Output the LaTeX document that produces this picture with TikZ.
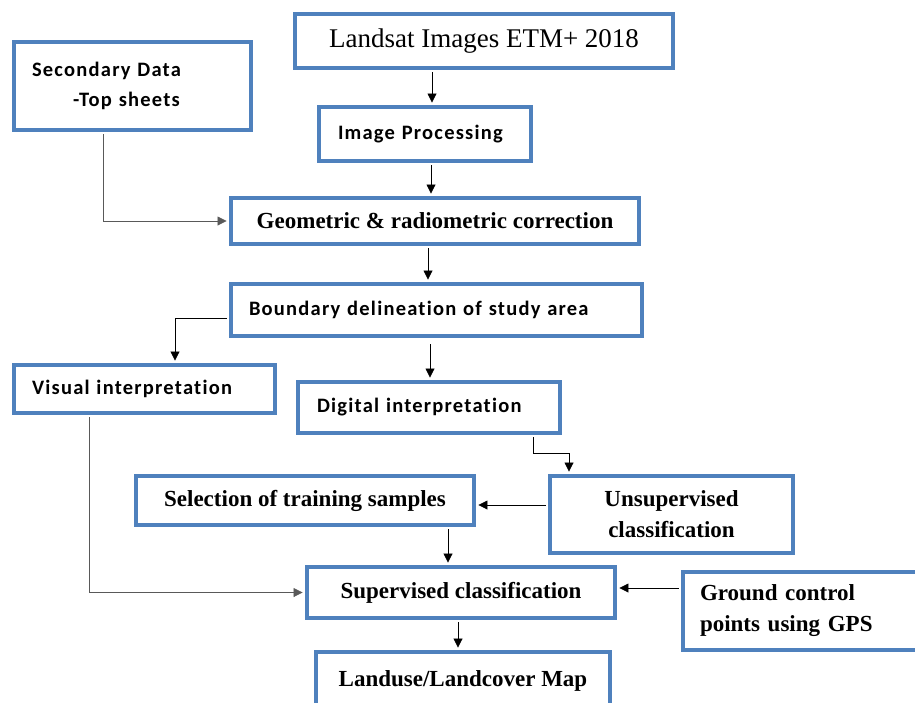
\documentclass[tikz,border=0pt]{standalone}
\usepackage{fontspec}
\setmainfont{Liberation Serif}
\newfontfamily\calfont[Ligatures=NoCommon, LetterSpace=6]{Carlito}
\usepackage{xcolor}
\usepackage{tikz}
\usetikzlibrary{arrows.meta,positioning,calc}
\definecolor{boxblue}{RGB}{79,129,189}

\begin{document}
\begin{tikzpicture}[>={Triangle[length=9pt,width=9pt]}, x=1pt, y=-1pt,
  box/.style={draw=boxblue, line width=4.5pt, fill=white, inner sep=0pt,
    font=\bfseries\fontsize{23}{31}\selectfont},
  sbox/.style={box, font=\calfont\bfseries\fontsize{20.5}{30}\selectfont},
  flow/.style={->, thick, shorten >=2.2pt, shorten <=2.2pt},
  feed/.style={flow, draw=black!65}]
  \clip (0,0) rectangle (915,702);

  % Draw the boxes
  \node[box, font=\fontsize{27}{30}\selectfont, minimum width=378pt, minimum height=54pt]
    (land) at (484,41) {Landsat Images ETM+ 2018};
  \node[sbox, text width=201pt, inner xsep=18pt, minimum height=88pt, align=left]
    (sec) at (132.5,86) {Secondary Data\\\hspace*{41pt}-Top sheets};
  \node[sbox, text width=174pt, inner xsep=19pt, minimum height=54pt, align=left]
    (imgp) at (425,134) {Image Processing};
  \node[box, minimum width=408pt, minimum height=46pt]
    (geo) at (435,221) {Geometric \& radiometric correction};
  \node[sbox, text width=375pt, inner xsep=18pt, minimum height=52pt, align=left]
    (bound) at (436.5,310) {Boundary delineation of study area};
  \node[sbox, text width=225pt, inner xsep=18pt, minimum height=48pt, align=left]
    (vis) at (144.5,389) {Visual interpretation};
  \node[sbox, text width=224pt, inner xsep=19pt, minimum height=51pt, align=left]
    (dig) at (429,407.5) {Digital interpretation};
  \node[box, minimum width=338pt, minimum height=49pt]
    (sel) at (305,500.5) {Selection of training samples};
  \node[box, minimum width=243pt, minimum height=77pt, align=center]
    (unsup) at (671.5,514.5) {Unsupervised\\classification};
  \node[box, minimum width=308pt, minimum height=51pt]
    (sup) at (461,592.5) {Supervised classification};
  \node[box, text width=203pt, inner xsep=17pt, minimum height=78pt, align=left]
    (gcp) at (801.5,611) {Ground control\\points using GPS};
  \node[box, minimum width=294pt, minimum height=58pt]
    (map) at (463,681) {\raisebox{4pt}{Landuse/Landcover Map}};

  % Arrows down the main column
  \draw[flow] ([xshift=-52pt]land.south) -- ([xshift=-52pt]land.south |- imgp.north);
  \draw[flow] ([xshift=6pt]imgp.south) -- ([xshift=6pt]imgp.south |- geo.north);
  \draw[flow] ([xshift=-7pt]geo.south) -- ([xshift=-7pt]geo.south |- bound.north);
  \draw[flow] ($(bound.south)+(-6.5,4)$) coordinate (b) -- (b |- dig.north);

  % Side inputs
  \draw[feed] ([xshift=-29.5pt]sec.south) |- (geo.west);
  \draw[flow] ($(bound.west)+(0,8)$) -| ([xshift=30.5pt]vis.north);
  \draw[feed] ([xshift=-55.5pt]vis.south) |- (sup.west);

  % Classification part
  \draw[flow] ([xshift=104pt]dig.south) -- ++(0,18) -| ([xshift=-102.5pt]unsup.north);
  \draw[flow] ($(unsup.west)+(0,-9.5)$) coordinate (u) -- (u -| sel.east);
  \draw[flow] ([xshift=143pt]sel.south) -- ([xshift=143pt]sel.south |- sup.north);
  \draw[flow] ($(gcp.west)+(0,-23)$) coordinate (g) -- (g -| sup.east);
  \draw[flow] ([xshift=-3pt]sup.south) -- ([xshift=-3pt]sup.south |- map.north);
\end{tikzpicture}
\end{document}
